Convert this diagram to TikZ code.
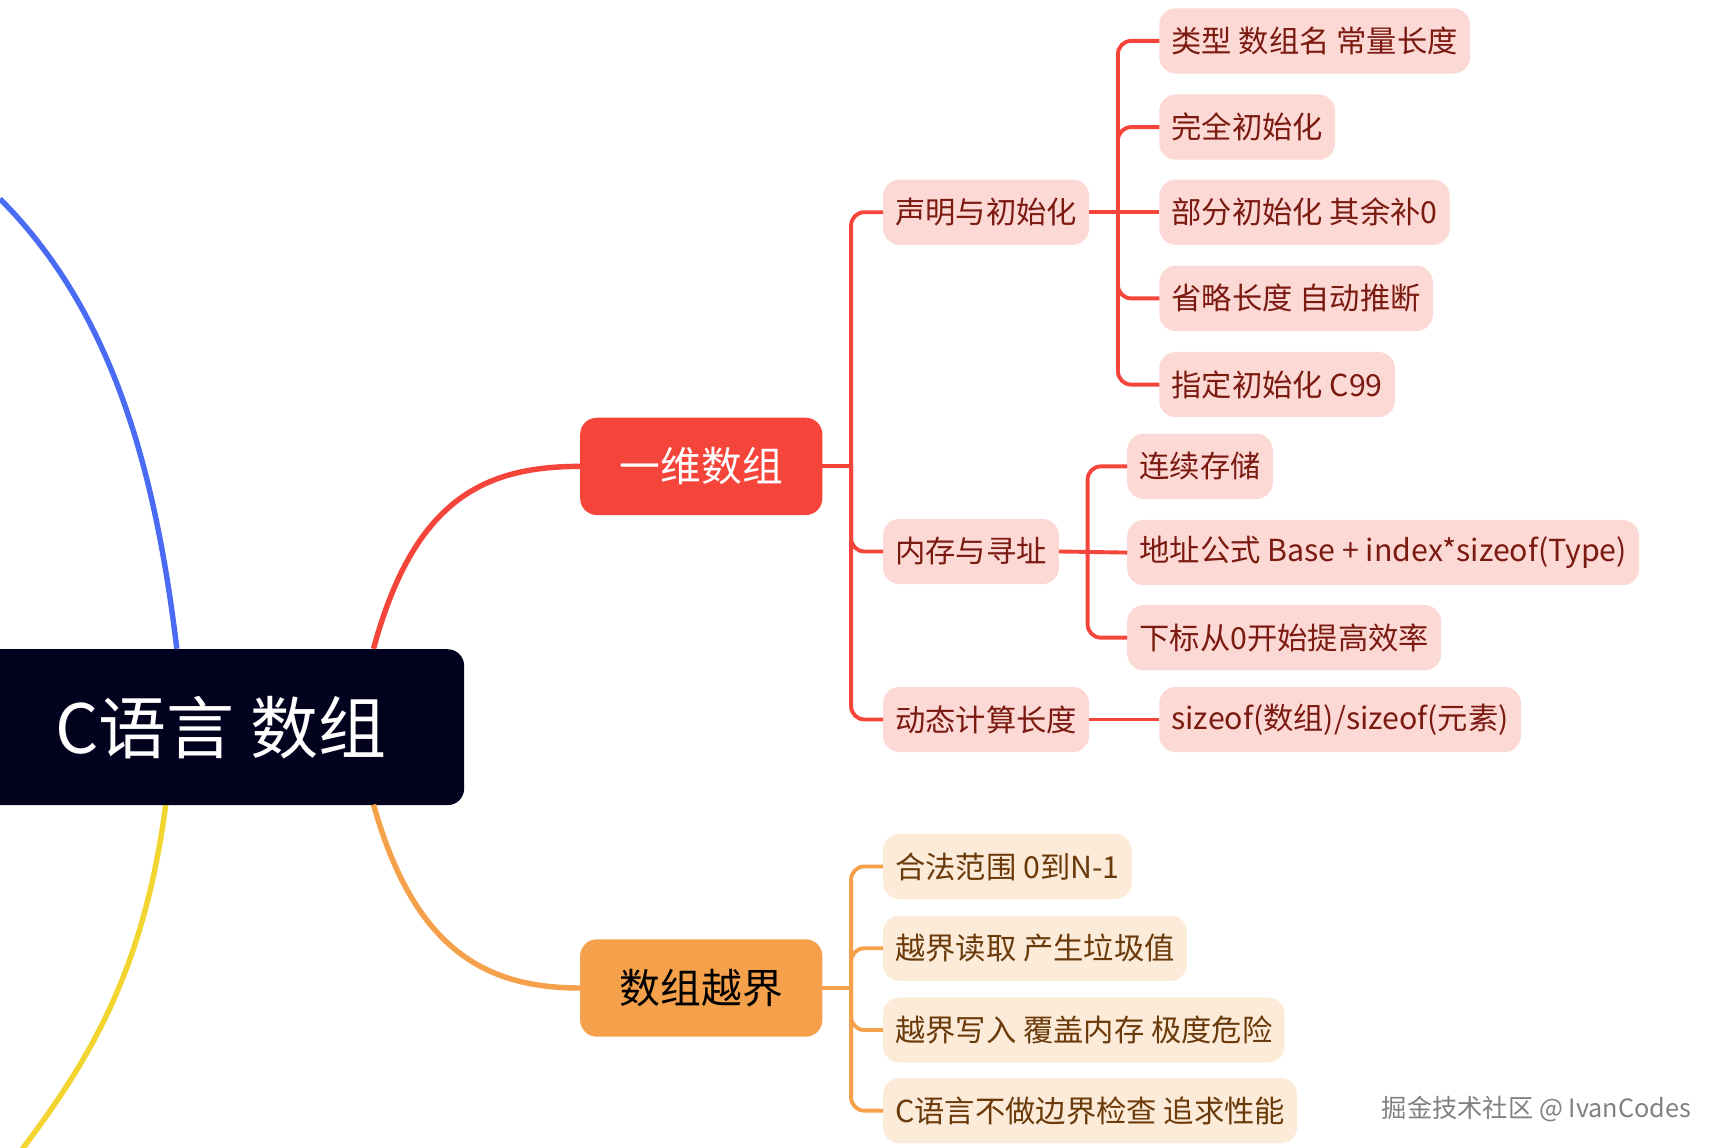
\documentclass[tikz,border=0pt]{standalone}
\usepackage{fontspec}
\setmainfont{Noto Sans CJK SC}
\begin{document}
\begin{tikzpicture}[x=0.01cm,y=-0.01cm,outer sep=0pt,
  root/.style={fill=rootc,text=white,rounded corners=0.15cm,font=\fontsize{17.5}{20}\selectfont,minimum height=1.41cm,minimum width=4.4cm,anchor=east},
  lone/.style={rounded corners=0.15cm,font=\fontsize{10.5}{12}\selectfont,minimum height=0.88cm,minimum width=2.19cm,anchor=west},
  rleaf/.style={fill=rfill,text=rtext,rounded corners=0.15cm,font=\fontsize{7.8}{9}\selectfont,minimum height=0.59cm,inner xsep=0.11cm,anchor=west},
  oleaf/.style={fill=ofill,text=otext,rounded corners=0.15cm,font=\fontsize{7.8}{9}\selectfont,minimum height=0.59cm,inner xsep=0.11cm,anchor=west},
  rl/.style={draw=redc,line width=1pt,rounded corners=0.12cm},
  ol/.style={draw=orc,line width=1pt,rounded corners=0.12cm}]
\definecolor{rootc}{HTML}{02021F}
\definecolor{redc}{HTML}{F5443A}
\definecolor{orc}{HTML}{F5A04A}
\definecolor{rfill}{HTML}{FDD9D6}
\definecolor{ofill}{HTML}{FDEBD9}
\definecolor{rtext}{HTML}{7A1A10}
\definecolor{otext}{HTML}{6A3A0A}
\definecolor{bluec}{HTML}{4A6CF5}
\definecolor{yelc}{HTML}{F2D530}
\useasboundingbox (0,0) rectangle (1560,1038);
\draw[bluec,line width=1.4pt] (0,180) .. controls (100,280) and (140,420) .. (160,587);
\draw[yelc,line width=1.4pt] (150,728) .. controls (130,880) and (80,960) .. (20,1040);
\node[root] (root) at (420,658) {C语言 数组};
\node[lone,fill=redc,text=white] (a) at (525,422) {一维数组};
\node[lone,fill=orc,text=black] (b) at (525,894) {数组越界};
\draw[redc,line width=1.4pt] (338,587) .. controls (375,450) and (440,422) .. (a.west);
\draw[orc,line width=1.4pt] (338,728) .. controls (375,860) and (440,894) .. (b.west);
\node[rleaf] (a1) at (799,192) {声明与初始化};
\node[rleaf] (a2) at (799,499) {内存与寻址};
\node[rleaf] (a3) at (799,651) {动态计算长度};
\node[rleaf] (a11) at (1049,37) {类型 数组名 常量长度};
\node[rleaf] (a12) at (1049,115) {完全初始化};
\node[rleaf] (a13) at (1049,192) {部分初始化 其余补0};
\node[rleaf] (a14) at (1049,270) {省略长度 自动推断};
\node[rleaf] (a15) at (1049,348) {指定初始化 C99};
\node[rleaf] (a21) at (1020,422) {连续存储};
\node[rleaf] (a22) at (1020,500) {地址公式 Base + index*sizeof(Type)};
\node[rleaf] (a23) at (1020,577) {下标从0开始提高效率};
\node[rleaf] (a31) at (1049,651) {sizeof(数组)/sizeof(元素)};
\node[oleaf] (b1) at (799,784) {合法范围 0到N-1};
\node[oleaf] (b2) at (799,858) {越界读取 产生垃圾值};
\node[oleaf] (b3) at (799,932) {越界写入 覆盖内存 极度危险};
\node[oleaf] (b4) at (799,1005) {C语言不做边界检查 追求性能};
\path (a.east) ++(26,0) coordinate (aj) (b.east) ++(26,0) coordinate (bj)
      (a1.east) ++(26,0) coordinate (a1j) (a2.east) ++(26,0) coordinate (a2j);
\draw[rl] (a.east) -- (aj);
\foreach \c in {a1,a2,a3} \draw[rl] (aj) |- (\c.west);
\draw[rl] (a1.east) -- (a13.west);
\foreach \c in {a11,a12,a14,a15} \draw[rl] (a1j) |- (\c.west);
\draw[rl] (a2.east) -- (a22.west);
\foreach \c in {a21,a23} \draw[rl] (a2j) |- (\c.west);
\draw[rl] (a3.east) -- (a31.west);
\draw[ol] (b.east) -- (bj);
\foreach \c in {b1,b2,b3,b4} \draw[ol] (bj) |- (\c.west);
\node[anchor=east,text=gray,font=\fontsize{6.5}{8}\selectfont] (wm) at (1542,1003) {掘金技术社区 @ IvanCodes};
\end{tikzpicture}
\end{document}
